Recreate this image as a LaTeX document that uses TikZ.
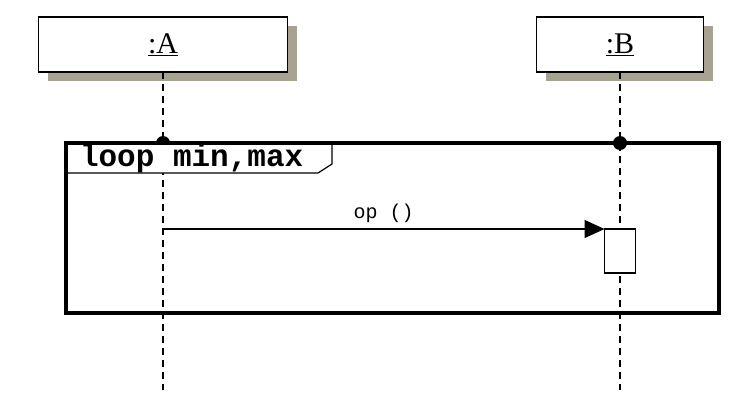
\documentclass[tikz,border=0pt]{standalone}
\usepackage{fontspec}
\setmainfont{Liberation Serif}
\newfontfamily\umlmono{Liberation Mono}
\usetikzlibrary{positioning,shadows,arrows.meta}
\definecolor{shadowgray}{HTML}{A8A290}

\begin{document}
\begin{tikzpicture}[x=1pt, y=-1pt,
      every node/.append style={inner sep=0pt, outer sep=0pt},
      object/.style={draw, line width=1.8pt, fill=white, minimum height=55pt,
        font=\fontsize{30}{30}\selectfont,
        drop shadow={shadow xshift=9pt, shadow yshift=-9pt, opacity=1, fill=shadowgray}},
      lifeline/.style={line width=2.2pt, dash pattern=on 7pt off 5pt},
      msg/.style={line width=1.3pt, -{Triangle[length=20pt,width=18pt]}}]
    \tikzstyle{frame} = [draw, line width=3.5pt]
    \tikzstyle{activation} = [draw, line width=1.5pt, fill=white, minimum width=31pt, minimum height=44pt]
    \useasboundingbox (0,0) rectangle (752,402);
    % objects
    \node (A) [object, minimum width=249pt] at (163,44.5) {\underline{:A}};
    \node (B) [object, minimum width=167pt] at (620,44.5) {\underline{:B}};
    \coordinate (Aend) at (163,390);
    \coordinate (Bend) at (620,390);
    \draw[lifeline] (A) -- (Aend);
    \draw[lifeline] (B) -- (Bend);
    % loop fragment
    \fill (163,143) circle (7);
    \fill (620,143) circle (7);
    \draw[fill=white, line width=1.2pt] (66,143) -- (332,143) -- (332,164) -- (318,173) -- (66,173);
    \node (loop) [frame, minimum width=653pt, minimum height=170pt] at (392.5,228) {};
    \node (guard) [anchor=base west, font=\umlmono\bfseries\fontsize{31}{31}\selectfont] at (80,166) {loop min,max};
    % message
    \node (act) [activation] at (620,251) {};
    \coordinate (opsrc) at (163,229);
    \draw[msg] (opsrc) -- (act.north west) node[midway, above=6pt, font=\umlmono\fontsize{20}{20}\selectfont] {op ()};
  \end{tikzpicture}
\end{document}
